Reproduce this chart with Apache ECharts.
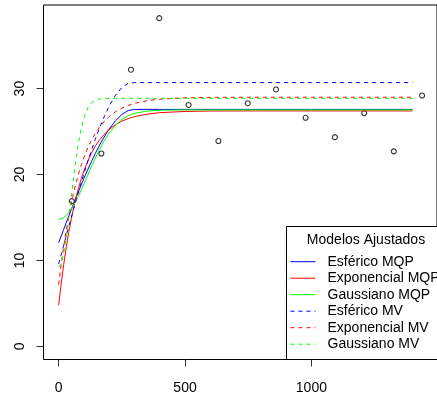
<!DOCTYPE html>
<html>
<head>
<meta charset="utf-8">
<script src="https://cdn.jsdelivr.net/npm/echarts@6/dist/echarts.min.js"></script>
<style>
html,body{margin:0;padding:0;background:#fff;}
#chart{width:437px;height:401px;}
</style>
</head>
<body>
<div id="chart"></div>
<script>
// Empirical semivariogram points
const pointX = [52, 169, 286, 398, 514, 632, 748, 860, 977, 1093, 1209, 1326, 1438];
const pointY = [16.9, 22.45, 32.2, 38.2, 28.1, 23.9, 28.3, 29.9, 26.6, 24.35, 27.15, 22.7, 29.2];

// Fitted model curves
const curveX = [0,10,20,30,40,50,60,70,80,90,100,115,130,145,160,180,200,225,250,275,300,350,400,500,600,800,1000,1200,1400];
const esfericoMQP = [12.07,12.85,13.62,14.39,15.16,15.92,16.67,17.41,18.13,18.85,19.55,20.56,21.53,22.45,23.32,24.37,25.30,26.26,26.99,27.44,27.58,27.58,27.58,27.58,27.58,27.58,27.58,27.58,27.58];
const exponencialMQP = [4.8,7.31,9.55,11.52,13.28,14.85,16.24,17.48,18.58,19.56,20.43,21.56,22.50,23.30,23.96,24.68,25.25,25.80,26.21,26.51,26.74,27.03,27.20,27.34,27.39,27.40,27.40,27.40,27.40];
const gaussianoMQP = [14.8,14.85,15.0,15.24,15.57,15.98,16.47,17.01,17.61,18.24,18.91,19.92,20.94,21.91,22.83,23.92,24.84,25.74,26.39,26.84,27.12,27.39,27.48,27.52,27.52,27.52,27.52,27.52,27.52];
const esfericoMV = [9.6,10.69,11.78,12.86,13.94,15.0,16.05,17.09,18.11,19.11,20.08,21.49,22.84,24.11,25.29,26.72,27.97,29.23,30.12,30.62,30.70,30.70,30.70,30.70,30.70,30.70,30.70,30.70,30.70];
const exponencialMV = [7.2,9.54,11.63,13.50,15.16,16.65,17.98,19.16,20.22,21.16,22.0,23.10,24.02,24.80,25.46,26.18,26.75,27.31,27.73,28.04,28.28,28.59,28.77,28.93,28.98,29.0,29.0,29.0,29.0];
const gaussianoMV = [9.2,9.62,10.83,12.68,14.95,17.41,19.84,22.05,23.94,25.46,26.61,27.74,28.36,28.66,28.79,28.85,28.87,28.87,28.87,28.87,28.87,28.87,28.87,28.87,28.87,28.87,28.87,28.87,28.87];

const xTicks = [0, 500, 1000];
const yTicks = [0, 10, 20, 30];
const legendTitle = 'Modelos Ajustados';
const modelNames = ['Esférico MQP','Exponencial MQP','Gaussiano MQP','Esférico MV','Exponencial MV','Gaussiano MV'];

const FONT = 'Liberation Sans, Arial, Helvetica, sans-serif';
const chart = echarts.init(document.getElementById('chart'), null, {renderer:'canvas'});

function pairs(xs, ys){ return xs.map((x,i)=>[x, ys[i]]); }
function curve(name, ys, color, dashed){
  return {
    name: name, type: 'line', data: pairs(curveX, ys),
    symbol: 'none', showSymbol: false, smooth: false, z: 3,
    lineStyle: {color: color, width: 1, type: dashed ? [4,4] : 'solid'},
    itemStyle: {color: color},
    emphasis: {disabled: true}
  };
}

const option = {
  animation: false,
  backgroundColor: '#fff',
  grid: {left: 43.5, top: 5, width: 401.8, height: 354.5, show: true, borderColor: '#000', borderWidth: 1, backgroundColor: 'transparent'},
  xAxis: {
    type: 'value', min: -60, max: 1497,
    axisLine: {show: false, onZero: false},
    axisTick: {show: true, customValues: xTicks, length: 7, lineStyle: {color: '#333', width: 1}},
    axisLabel: {customValues: xTicks, margin: 22, fontSize: 14, color: '#000', fontFamily: FONT, formatter: v => String(v)},
    splitLine: {show: false}
  },
  yAxis: {
    type: 'value', min: -1.528, max: 39.73,
    axisLine: {show: false, onZero: false},
    axisTick: {show: true, customValues: yTicks, length: 7, lineStyle: {color: '#333', width: 1}},
    axisLabel: {customValues: yTicks, rotate: 90, margin: 16, fontSize: 14, color: '#000', fontFamily: FONT, formatter: v => String(v)},
    splitLine: {show: false}
  },
  legend: {
    data: modelNames,
    orient: 'vertical', left: 290, top: 254.7, padding: 0,
    itemWidth: 25, itemHeight: 14, itemGap: 2.5,
    selectedMode: false, z: 10,
    itemStyle: {color: 'rgba(0,0,0,0)', borderWidth: 0, opacity: 0},
    lineStyle: {width: 1},
    textStyle: {fontSize: 14, color: '#000', fontFamily: FONT, lineHeight: 14, padding: [0,0,0,7]}
  },
  graphic: [
    {type: 'rect', z: 5, shape: {x: 286.5, y: 226.5, width: 158.5, height: 133}, style: {fill: '#fff', stroke: '#000', lineWidth: 1}},
    {type: 'text', z: 6, x: 366, y: 240, style: {text: legendTitle, fontSize: 14, fill: '#000', font: '14px ' + FONT, textAlign: 'center', textVerticalAlign: 'middle'}}
  ],
  series: [
    {
      name: 'Semivariância', type: 'scatter', data: pairs(pointX, pointY),
      symbol: 'circle', symbolSize: 5, z: 2,
      itemStyle: {color: 'rgba(0,0,0,0)', borderColor: '#000', borderWidth: 1.1},
      emphasis: {disabled: true}
    },
    curve('Esférico MQP', esfericoMQP, '#0000FF', false),
    curve('Exponencial MQP', exponencialMQP, '#FF0000', false),
    curve('Gaussiano MQP', gaussianoMQP, '#00FF00', false),
    curve('Esférico MV', esfericoMV, '#0000FF', true),
    curve('Exponencial MV', exponencialMV, '#FF0000', true),
    curve('Gaussiano MV', gaussianoMV, '#00FF00', true)
  ]
};
chart.setOption(option);
</script>
</body>
</html>
